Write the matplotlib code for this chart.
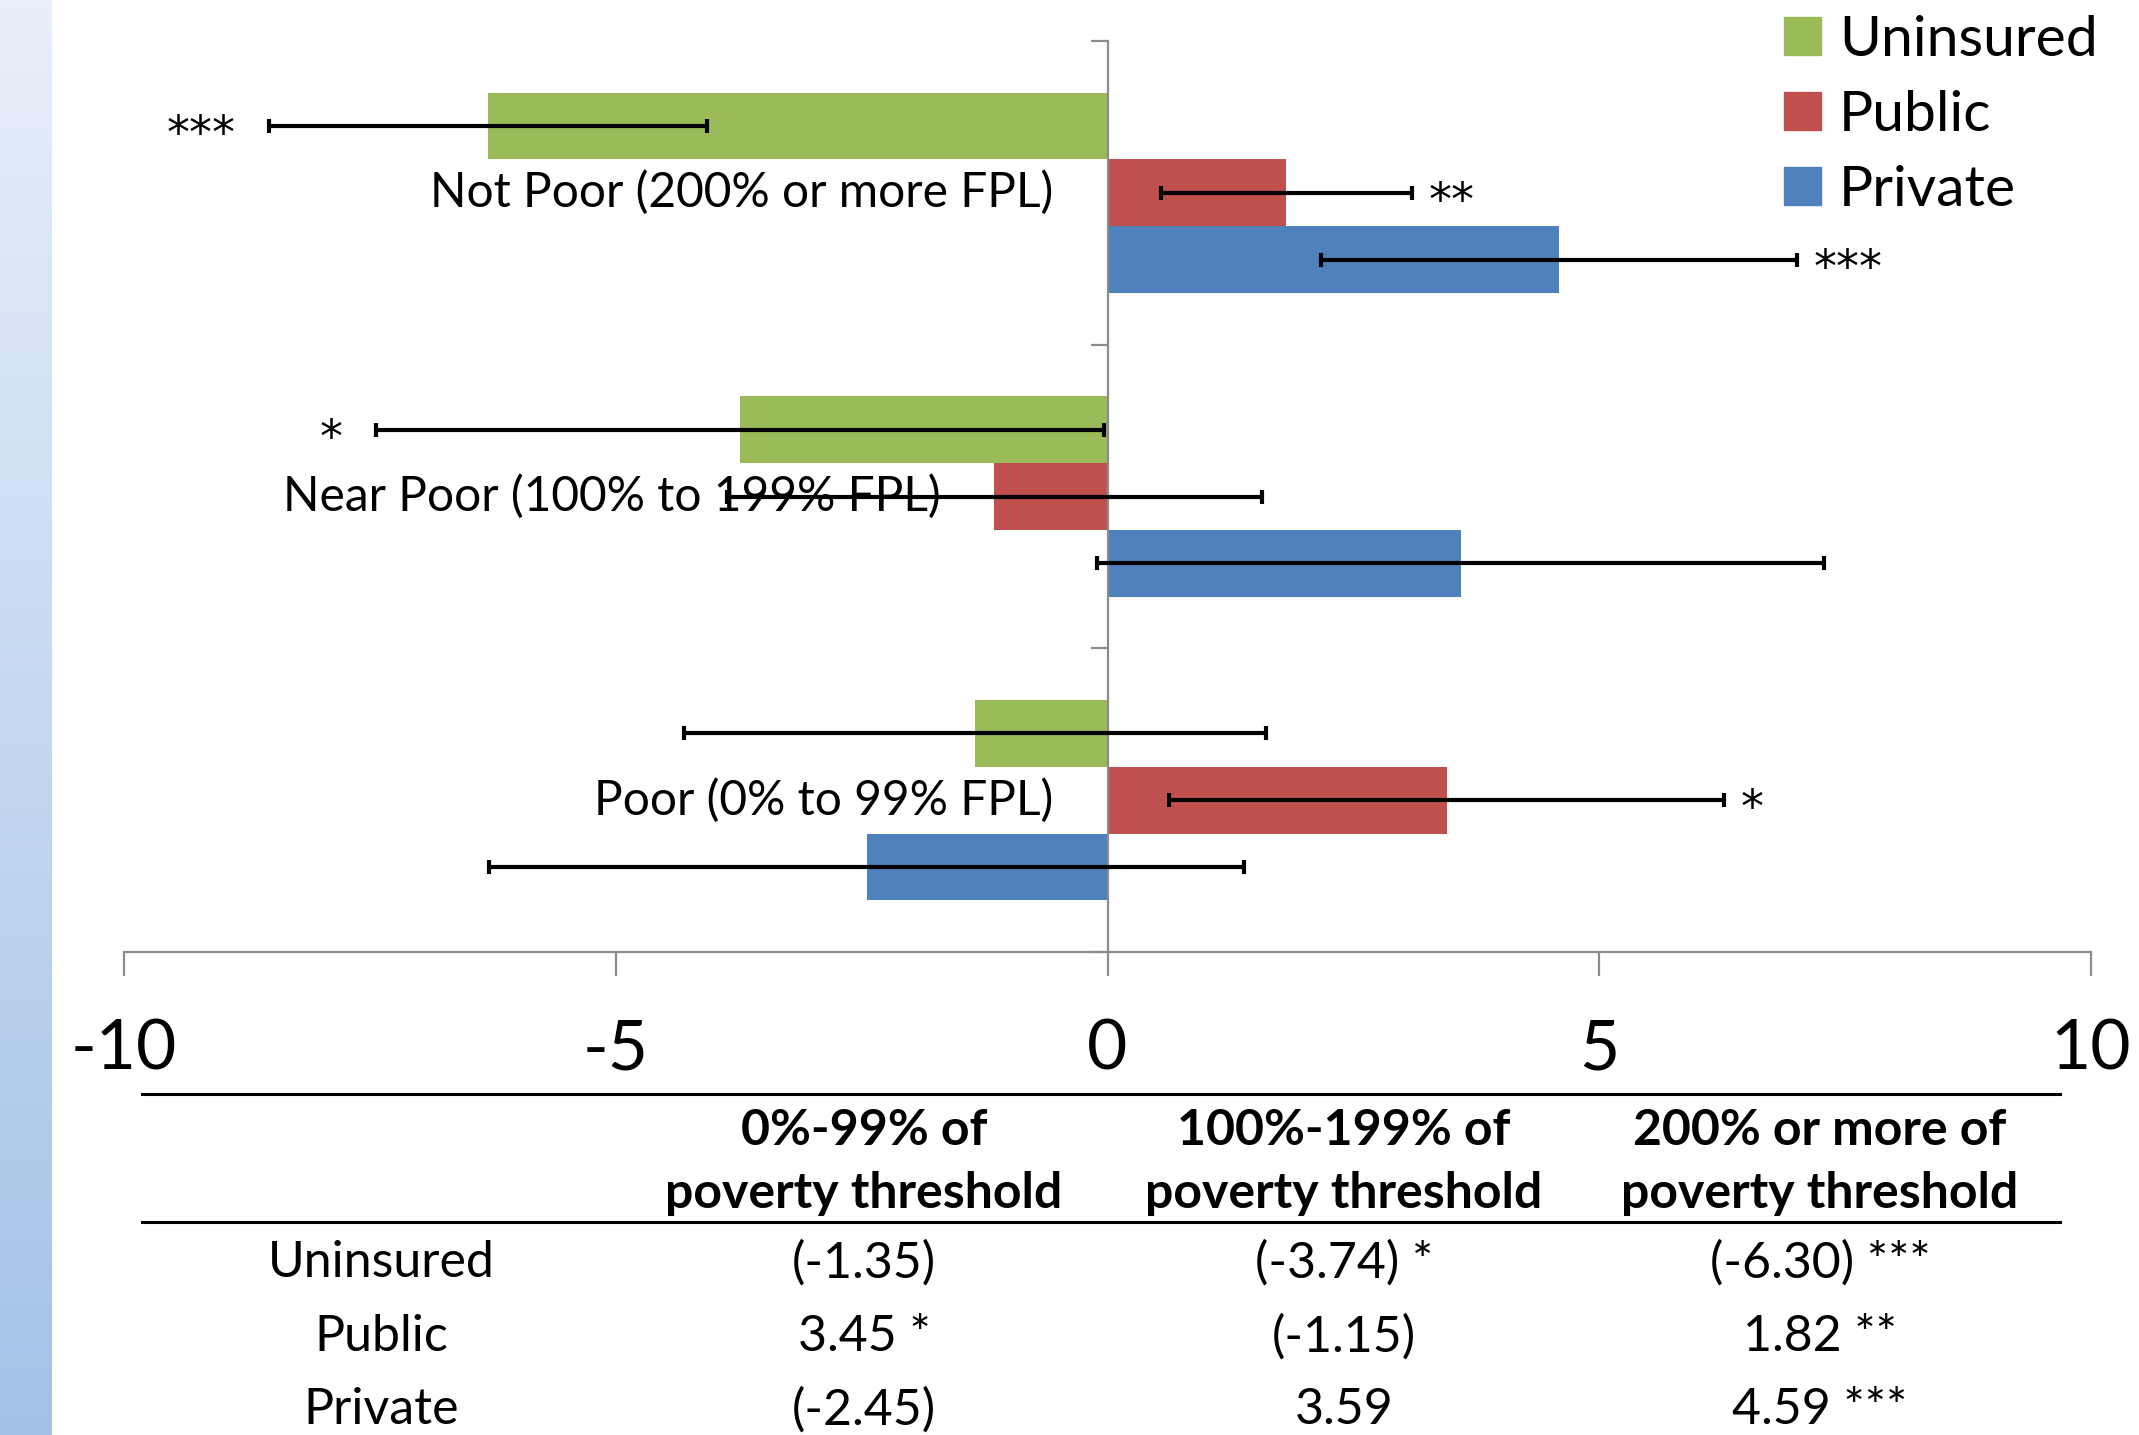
import matplotlib
matplotlib.use("Agg")
import matplotlib.pyplot as plt
import numpy as np
from matplotlib.colors import LinearSegmentedColormap
from matplotlib.patches import Patch

plt.rcParams['font.family'] = ['Lato', 'DejaVu Sans']

groups = ["Poor (0% to 99% FPL)", "Near Poor (100% to 199% FPL)", "Not Poor (200% or more FPL)"]
series = ["Uninsured", "Public", "Private"]
uninsured = [-1.35, -3.74, -6.30]
public = [3.45, -1.15, 1.82]
private = [-2.45, 3.59, 4.59]
err_uninsured = [2.96, 3.70, 2.23]
err_public = [2.82, 2.72, 1.28]
err_private = [3.84, 3.70, 2.42]
stars_uninsured = ["", "*", "***"]
stars_public = ["*", "", "**"]
stars_private = ["", "", "***"]
col_headers = ["0%-99% of\npoverty threshold", "100%-199% of\npoverty threshold", "200% or more of\npoverty threshold"]
xticks = [-10, -5, 0, 5, 10]

colors = ["#9bbb59", "#c0504d", "#4f81bd"]
gray = "#8c8c8c"
W, H = 2139, 1435

fig = plt.figure(figsize=(W / 100, H / 100), dpi=100)

# blue gradient strip on the left edge
strip = fig.add_axes([0, 0, 52 / W, 1])
cmap = LinearSegmentedColormap.from_list("strip", ["#e8eff9", "#a3c1e8"])
strip.imshow(np.linspace(0, 1, 256).reshape(-1, 1), cmap=cmap, aspect="auto")
strip.axis("off")

ax = fig.add_axes([124 / W, 1 - 952 / H, (2091 - 124) / W, (952 - 41) / H])
y = np.arange(len(groups))
bh = 0.22
vals = [uninsured, public, private]
errs = [err_uninsured, err_public, err_private]
stars = [stars_uninsured, stars_public, stars_private]
offs = [bh, 0, -bh]

for i in range(3):
    ax.barh(y + offs[i], vals[i], height=bh, color=colors[i], zorder=2)

for j, g in enumerate(groups):
    ax.text(min(0, public[j]) - 0.55, y[j], g, ha="right", va="center", fontsize=34.5, zorder=1)

for i in range(3):
    ax.errorbar(vals[i], y + offs[i], xerr=errs[i], fmt="none", ecolor="black",
                elinewidth=3, capsize=5, capthick=3, zorder=4)
    for j in range(len(groups)):
        s = stars[i][j]
        if not s:
            continue
        v, e = vals[i][j], errs[i][j]
        if v < 0:
            ax.annotate(s, (v - e, y[j] + offs[i]), xytext=(-24, -7), textcoords="offset points",
                        ha="right", va="center", fontsize=33, family="DejaVu Sans")
        else:
            ax.annotate(s, (v + e, y[j] + offs[i]), xytext=(12, -7), textcoords="offset points",
                        ha="left", va="center", fontsize=33, family="DejaVu Sans")

ax.set_xlim(-10, 10)
ax.set_ylim(-0.5, 2.5)
ax.set_xticks(xticks)
ax.set_xticklabels([str(t) for t in xticks])
ax.set_yticks(np.arange(-0.5, 3, 1))
ax.tick_params(axis="y", direction="out", length=12, width=1.6, color=gray, labelleft=False)
ax.tick_params(axis="x", direction="out", length=17, width=1.6, color=gray, labelsize=50, pad=31)
ax.spines["left"].set_position(("data", 0))
ax.spines["left"].set_color(gray)
ax.spines["left"].set_linewidth(1.6)
ax.spines["bottom"].set_color(gray)
ax.spines["bottom"].set_linewidth(1.6)
ax.spines["top"].set_visible(False)
ax.spines["right"].set_visible(False)
ax.patch.set_alpha(0)

handles = [Patch(color=c, label=s) for c, s in zip(colors, series)]
fig.legend(handles=handles, loc="upper left", bbox_to_anchor=(1784 / W, 1 - 15 / H),
           frameon=False, fontsize=41, borderpad=0, handlelength=0.65, handleheight=0.65,
           handletextpad=0.32, labelspacing=0.42, borderaxespad=0)

# table under the chart
tab = fig.add_axes([142 / W, 0, (2060 - 142) / W, (H - 1094) / H])
tab.set_xlim(0, 1)
tab.set_ylim(0, 1)
tab.axis("off")
tab.plot([0, 1], [1, 1], color="black", lw=2.2, clip_on=False)
tab.plot([0, 1], [0.625, 0.625], color="black", lw=2.2, clip_on=False)
col_x = [0.1246, 0.3764, 0.6267, 0.8749]
for k, h in enumerate(col_headers):
    tab.text(col_x[k + 1], 0.80, h, ha="center", va="center", fontsize=36,
             fontweight="bold", linespacing=1.5)
row_y = [0.504, 0.287, 0.073]


def cell(v, s):
    t = f"({v:.2f})" if v < 0 else f"{v:.2f}"
    return f"{t} {s}" if s else t


for i, name in enumerate(series):
    tab.text(col_x[0], row_y[i], name, ha="center", va="center", fontsize=36)
    for j in range(len(groups)):
        tab.text(col_x[j + 1], row_y[i], cell(vals[i][j], stars[i][j]),
                 ha="center", va="center", fontsize=36)

fig.savefig("out.png", dpi=100)
